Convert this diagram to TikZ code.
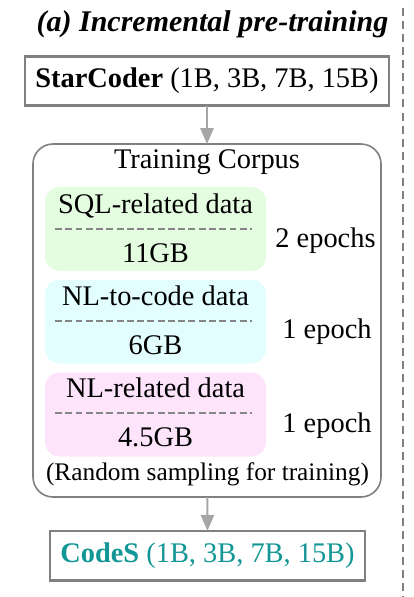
\documentclass[tikz,border=0pt]{standalone}
\usepackage{fontspec}
\setmainfont{Liberation Serif}
\usetikzlibrary{arrows.meta}
\definecolor{bordergray}{HTML}{808080}
\definecolor{arrowgray}{HTML}{A6A6A6}
\definecolor{sepgray}{HTML}{858585}
\definecolor{sqlgreen}{HTML}{E4FCE0}
\definecolor{nlcyan}{HTML}{E2FEFE}
\definecolor{nlpink}{HTML}{FDE4FB}
\definecolor{codesteal}{HTML}{129696}
\begin{document}
\begin{tikzpicture}[x=0.75pt,y=-0.75pt,
  every node/.style={inner sep=0pt, outer sep=0pt},
  txt/.style={font=\fontsize{21.3}{25}\selectfont, anchor=base},
  modelbox/.style={draw=bordergray, line width=2pt, minimum height=37pt, font=\fontsize{21.3}{25}\selectfont},
  corpusbox/.style={draw=bordergray, line width=1.2pt, rounded corners=15pt, minimum width=261pt, minimum height=264.75pt},
  databox/.style={rounded corners=11pt, minimum width=165.75pt, minimum height=63pt},
  sepline/.style={draw=sepgray, line width=1.9pt, dash pattern=on 5.2pt off 2.5pt},
  flow/.style={draw=arrowgray, line width=1.5pt, -{Triangle[width=10pt,length=12pt]}},
  divider/.style={draw=bordergray, line width=1.4pt, dash pattern=on 6pt off 3.8pt},
]
\useasboundingbox (0,0) rectangle (414,597);
% title
\node[font=\fontsize{22.5}{27}\selectfont\bfseries\itshape, anchor=base] (title) at (212.5,31) {(a) Incremental pre-training};
% divider
\draw[divider] (403,8) -- (403,597);
% model boxes
\node[modelbox, minimum width=273pt] (star) at (207,81) {\textbf{StarCoder} (1B, 3B, 7B, 15B)};
\node[corpusbox] (corpus) at (207,320.5) {};
\node[modelbox, minimum width=236.25pt, text=codesteal] (codes) at (207.5,555.5) {\textbf{CodeS} (1B, 3B, 7B, 15B)};
% corpus content
\node[txt] (tc) at (207,168) {Training Corpus};
\node[databox, fill=sqlgreen] (sql) at (155.5,229) {};
\node[databox, fill=nlcyan] (nl2c) at (155.5,321.5) {};
\node[databox, fill=nlpink] (nlr) at (155.5,414.5) {};
\node[txt] (sqlt) at (155.5,213) {SQL-related data};
\node[txt] (sqls) at (155.5,262) {11GB};
\node[txt] (nl2ct) at (155.5,305) {NL-to-code data};
\node[txt] (nl2cs) at (155.5,354) {6GB};
\node[txt] (nlrt) at (155.5,397) {NL-related data};
\node[txt] (nlrs) at (155.5,446) {4.5GB};
\draw[sepline] (55,229) -- (252,229);
\draw[sepline] (55,321) -- (252,321);
\draw[sepline] (55,413) -- (252,413);
\node[txt] (ep1) at (325.5,247) {2 epochs};
\node[txt] (ep2) at (327,338) {1 epoch};
\node[txt] (ep3) at (327,432) {1 epoch};
\node[txt, font=\fontsize{19}{23}\selectfont] (rs) at (207.5,480) {(Random sampling for training)};
% arrows
\draw[flow] (star) -- (corpus);
\draw[flow] (corpus) -- (codes);
\end{tikzpicture}
\end{document}
